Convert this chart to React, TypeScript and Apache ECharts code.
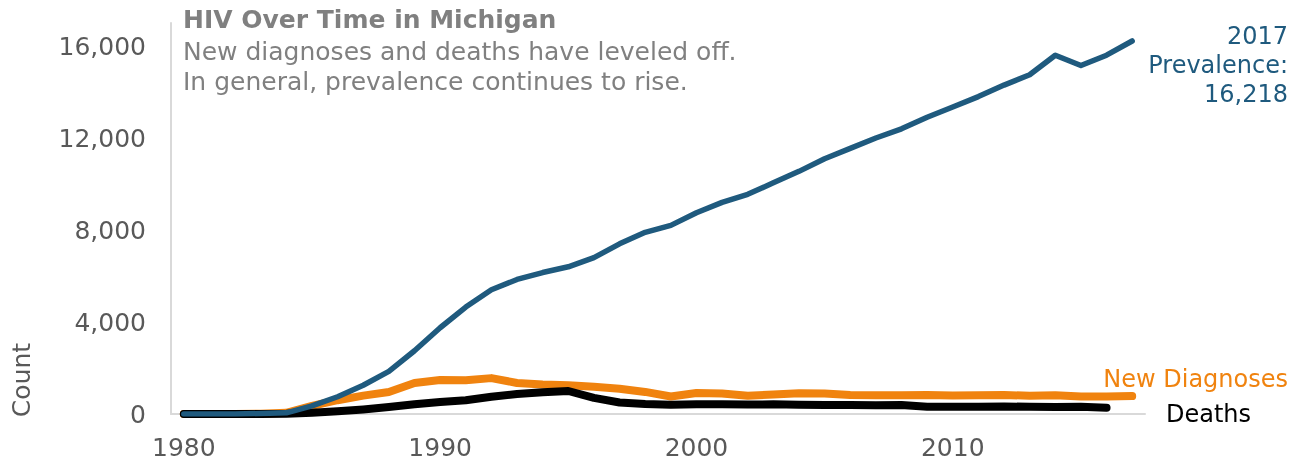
import React, { useEffect, useRef } from "react";
import * as echarts from "echarts";

const years = [
  "1980", "1981", "1982", "1983", "1984", "1985", "1986", "1987", "1988", "1989",
  "1990", "1991", "1992", "1993", "1994", "1995", "1996", "1997", "1998", "1999",
  "2000", "2001", "2002", "2003", "2004", "2005", "2006", "2007", "2008", "2009",
  "2010", "2011", "2012", "2013", "2014", "2015", "2016", "2017",
];
const labeledYears = ["1980", "1990", "2000", "2010"];

const prevalence = [
  0, 0, 0, 20, 50, 350, 750, 1250, 1850, 2750,
  3750, 4650, 5400, 5850, 6150, 6400, 6800, 7400, 7900, 8200,
  8750, 9200, 9550, 10050, 10550, 11100, 11550, 12000, 12400, 12900,
  13350, 13800, 14300, 14750, 15600, 15150, 15600, 16218,
];
const newDiagnoses = [
  0, 0, 0, 10, 50, 350, 600, 800, 960, 1350,
  1480, 1470, 1560, 1350, 1280, 1250, 1180, 1100, 960, 760,
  910, 890, 790, 850, 900, 890, 830, 820, 810, 830,
  800, 810, 830, 790, 820, 760, 760, 780,
];
const deaths = [
  0, 0, 0, 0, 10, 50, 120, 200, 300, 420,
  520, 600, 750, 870, 950, 1000, 700, 500, 430, 400,
  420, 420, 410, 420, 400, 390, 390, 380, 390, 320,
  310, 320, 330, 310, 300, 320, 270,
];

const FONT = "'DejaVu Sans', Verdana, sans-serif";
const GRAY = "#595959";
const TITLE_GRAY = "#808080";
const BLUE = "#1f5a7e";
const ORANGE = "#f0830f";
const AXIS = "#d9d9d9";

export default function App() {
  const ref = useRef<HTMLDivElement>(null);
  useEffect(() => {
    const chart = echarts.init(ref.current!, null, { renderer: "svg" });
    const lastYear = years[prevalence.length - 1];
    const lastVal = prevalence[prevalence.length - 1].toLocaleString("en-US");
    chart.setOption({
      animation: false,
      textStyle: { fontFamily: FONT },
      grid: {
        left: 171,
        right: 154,
        top: 23,
        bottom: 47,
        containLabel: false,
        outerBoundsMode: "none",
      },
      xAxis: {
        type: "category",
        data: years,
        boundaryGap: true,
        axisLine: { lineStyle: { color: AXIS, width: 2 } },
        axisTick: { show: false },
        axisLabel: {
          interval: (_i: number, v: string) => labeledYears.includes(v),
          color: GRAY,
          fontSize: 25,
          lineHeight: 18,
          fontFamily: FONT,
          margin: 24,
        },
        splitLine: { show: false },
      },
      yAxis: {
        type: "value",
        min: 0,
        max: 17000,
        interval: 4000,
        axisLine: { show: true, lineStyle: { color: AXIS, width: 2 } },
        axisTick: { show: false },
        splitLine: { show: false },
        axisLabel: {
          color: GRAY,
          fontSize: 25,
          fontFamily: FONT,
          margin: 25,
          showMaxLabel: false,
          formatter: (v: number) => v.toLocaleString("en-US"),
        },
      },
      series: [
        {
          name: "New Diagnoses",
          type: "line",
          data: newDiagnoses,
          showSymbol: false,
          lineStyle: { color: ORANGE, width: 8, cap: "round", join: "round" },
          z: 2,
        },
        {
          name: "Deaths",
          type: "line",
          data: deaths,
          showSymbol: false,
          lineStyle: { color: "#000000", width: 8, cap: "round", join: "round" },
          z: 3,
        },
        {
          name: "Prevalence",
          type: "line",
          data: prevalence,
          showSymbol: false,
          lineStyle: { color: BLUE, width: 5.5, cap: "round", join: "round" },
          z: 4,
        },
      ],
      graphic: [
        {
          type: "text",
          left: 183,
          top: 7,
          style: {
            text: "HIV Over Time in Michigan",
            fill: TITLE_GRAY,
            font: `bold 25px ${FONT}`,
          },
        },
        {
          type: "text",
          left: 183,
          top: 36,
          style: {
            text: "New diagnoses and deaths have leveled off.\nIn general, prevalence continues to rise.",
            fill: TITLE_GRAY,
            font: `25px ${FONT}`,
            lineHeight: 30,
          },
        },
        {
          type: "text",
          x: 1288,
          y: 65,
          style: {
            text: `${lastYear}\nPrevalence:\n${lastVal}`,
            fill: BLUE,
            font: `24px ${FONT}`,
            align: "right",
            verticalAlign: "middle",
            lineHeight: 29,
          },
        },
        {
          type: "text",
          x: 1288,
          y: 379,
          style: {
            text: "New Diagnoses",
            fill: ORANGE,
            font: `24px ${FONT}`,
            align: "right",
            verticalAlign: "middle",
          },
        },
        {
          type: "text",
          x: 1166,
          y: 414,
          style: {
            text: "Deaths",
            fill: "#000000",
            font: `24px ${FONT}`,
            align: "left",
            verticalAlign: "middle",
          },
        },
        {
          type: "text",
          x: 21,
          y: 380,
          rotation: Math.PI / 2,
          style: {
            text: "Count",
            fill: GRAY,
            font: `25px ${FONT}`,
            align: "center",
            verticalAlign: "middle",
          },
        },
      ],
    });
    return () => chart.dispose();
  }, []);
  return (
    <div
      ref={ref}
      style={{ position: "fixed", left: 0, top: 0, width: 1299, height: 461 }}
    />
  );
}
